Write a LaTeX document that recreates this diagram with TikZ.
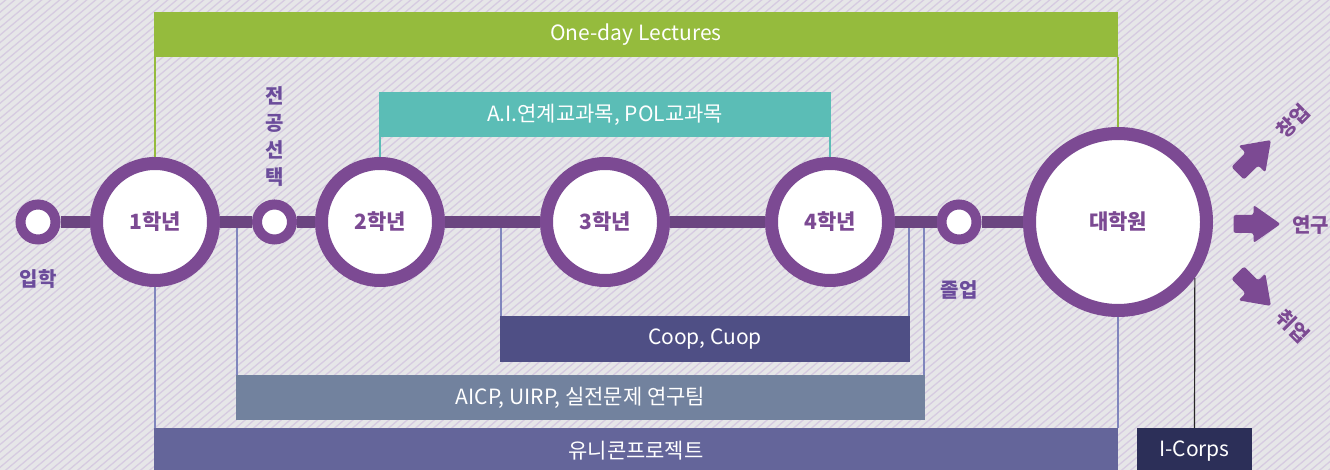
\documentclass[tikz,border=0pt]{standalone}
\usepackage{fontspec}
\setmainfont{Noto Sans CJK KR}
\definecolor{bgc}{HTML}{E6E6E8}
\definecolor{stripec}{HTML}{D6CBE1}
\definecolor{ringc}{HTML}{7C4A93}
\definecolor{linec}{HTML}{6B4580}
\definecolor{greenc}{HTML}{95BB3D}
\definecolor{tealc}{HTML}{5BBDB6}
\definecolor{coopc}{HTML}{4F4F85}
\definecolor{aicpc}{HTML}{72829E}
\definecolor{unic}{HTML}{64659A}
\definecolor{icc}{HTML}{2C2F58}
\definecolor{thinc}{HTML}{8086BD}
\definecolor{lblc}{HTML}{6B4C9B}
\tikzset{
  bigc/.style={circle, draw=ringc, line width=13pt, fill=white, minimum size=117pt, inner sep=0pt, text=ringc, font=\fontsize{21}{24}\selectfont\bfseries},
  hugec/.style={bigc, minimum size=177pt},
  smallc/.style={circle, draw=ringc, line width=10pt, fill=white, minimum size=35pt, inner sep=0pt},
  mainline/.style={draw=linec, line width=12pt},
  bar/.style={rectangle, inner sep=0pt, text=white, font=\fontsize{21}{24}\selectfont},
  lbl/.style={text=lblc, font=\fontsize{20}{27}\selectfont\bfseries, inner sep=0pt, align=center},
  albl/.style={text=ringc, font=\fontsize{20}{24}\selectfont\bfseries, inner sep=0pt},
  thin/.style={draw=thinc, line width=1.3pt},
  barrow/.pic={\fill[ringc, rounded corners=2.5pt] (-23,-9) -- (-3,-9) -- (-3,-19) -- (24,0) -- (-3,19) -- (-3,9) -- (-23,9) -- cycle;}
}
\begin{document}
\begin{tikzpicture}[x=1pt,y=-1pt]
\useasboundingbox (0,0) rectangle (1330,470);
\fill[bgc] (0,0) rectangle (1330,470);
\begin{scope}
\clip (0,0) rectangle (1330,470);
\foreach \i in {-600,-591,...,1340} {
  \draw[stripec, line width=1.3pt] (\i,480) -- ({\i+572},-2);
}
\end{scope}

% bars
\node[bar, fill=greenc, minimum width=964pt, minimum height=45pt] (ody) at (636,34.5) {One-day Lectures};
\node[bar, fill=tealc, minimum width=452pt, minimum height=45pt] (ai) at (605,114.5) {A.I.연계교과목, POL교과목};
\node[bar, fill=coopc, minimum width=410pt, minimum height=46pt] (coop) at (705,339) {Coop, Cuop};
\node[bar, fill=aicpc, minimum width=689pt, minimum height=45pt] (aicp) at (580.5,397.5) {AICP, UIRP, 실전문제 연구팀};
\node[bar, fill=unic, minimum width=964pt, minimum height=46pt] (uni) at (636,451) {유니콘프로젝트};
\node[bar, fill=icc, minimum width=115pt, minimum height=46pt] (ic) at (1194.5,451) {I-Corps};

% stations
\node[smallc] (in) at (38,222) {};
\node[bigc] (y1) at (155,222) {1학년};
\node[smallc] (maj) at (274.5,222) {};
\node[bigc] (y2) at (380,222) {2학년};
\node[bigc] (y3) at (605,222) {3학년};
\node[bigc] (y4) at (830,222) {4학년};
\node[smallc] (grad) at (959,222) {};
\node[hugec] (gs) at (1118,222) {대학원};

% main line
\draw[mainline] (in) -- (y1);
\draw[mainline] (y1) -- (maj);
\draw[mainline] (maj) -- (y2);
\draw[mainline] (y2) -- (y3);
\draw[mainline] (y3) -- (y4);
\draw[mainline] (y4) -- (grad);
\draw[mainline] (grad) -- (gs);

% coordinates on main line bottom
\coordinate (c1) at (501,228);
\coordinate (c2) at (909,228);
\coordinate (a1) at (237,228);
\coordinate (a2) at (924,228);

% connectors
\draw[greenc, line width=1.5pt] (y1.north |- ody.south) -- (y1.north);
\draw[greenc, line width=1.5pt] (gs.north |- ody.south) -- (gs.north);
\draw[tealc, line width=1.5pt] (y2.north |- ai.south) -- (y2.north);
\draw[tealc, line width=1.5pt] (y4.north |- ai.south) -- (y4.north);
\draw[thin] (c1) -- (c1 |- coop.north);
\draw[thin] (c2) -- (c2 |- coop.north);
\draw[thin] (a1) -- (a1 |- aicp.north);
\draw[thin] (a2) -- (a2 |- aicp.north);
\draw[thin] (y1.south) -- (y1.south |- uni.north);
\draw[thin] (gs.south) -- (gs.south |- uni.north);
\draw[black!85, line width=1.2pt] (gs.-36.87) -- (ic.north);

% labels
\node[lbl] (tin) at (38,279) {입학};
\node[lbl] (tmaj) at (274.5,137) {전\\공\\선\\택};
\node[lbl] (tgrad) at (959,290) {졸업};

% arrows
\pic[rotate=45] at (1254,157) {barrow};
\pic at (1256.5,224) {barrow};
\pic[rotate=-45] at (1254,289) {barrow};
\node[albl, rotate=45] (t1) at (1293,121) {창업};
\node[albl, anchor=west] (t2) at (1292,225) {연구};
\node[albl, rotate=-45] (t3) at (1293,326) {취업};
\end{tikzpicture}
\end{document}
